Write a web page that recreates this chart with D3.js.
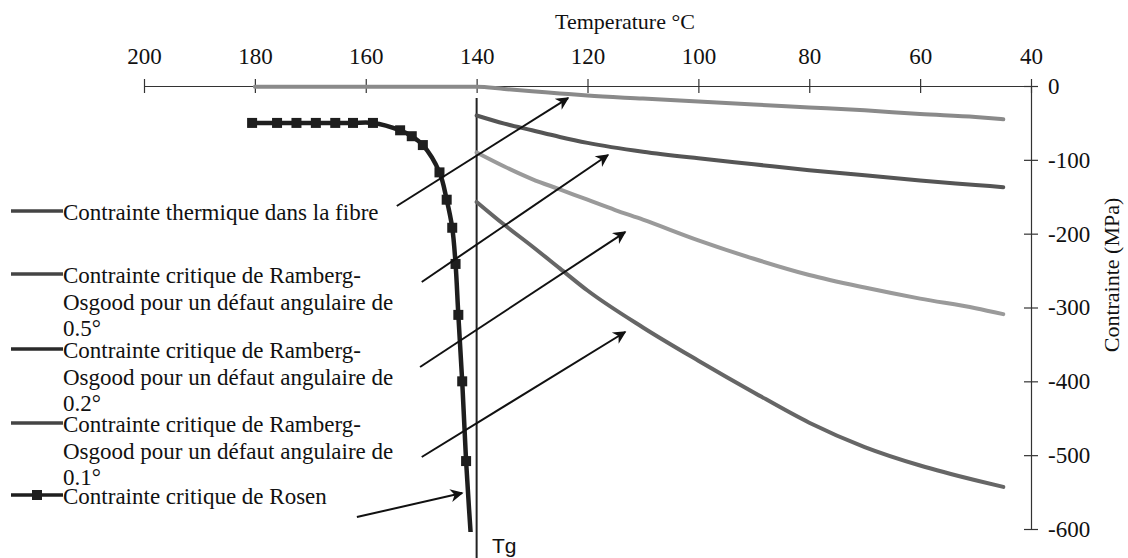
<!DOCTYPE html>
<html>
<head>
<meta charset="utf-8">
<script src="https://cdn.jsdelivr.net/npm/d3@7"></script>
<style>
  html, body { margin: 0; padding: 0; background: #fff; }
  svg { display: block; }
</style>
</head>
<body>
<svg id="chart" width="1128" height="558"></svg>
<script>
// ---------- data ----------
const xTicks = [200, 180, 160, 140, 120, 100, 80, 60, 40];
const yTicks = [0, -100, -200, -300, -400, -500, -600];

const thermT = [180, 170, 160, 150, 140, 135, 130, 125, 120, 110, 100, 90, 80, 70, 60, 50, 45];
const thermS = [-1, -1, -1, -1, -1, -4, -7, -10, -13, -17, -21, -25, -29, -33, -38, -42, -45];

const ro05T = [140, 135, 130, 125, 120, 110, 100, 90, 80, 70, 60, 50, 45];
const ro05S = [-40, -51, -60, -69, -77, -89, -98, -106, -114, -121, -128, -134, -137];

const ro02T = [140, 135, 130, 125, 120, 115, 110, 100, 90, 80, 70, 60, 50, 45];
const ro02S = [-90, -109, -126, -140, -154, -168, -181, -209, -234, -256, -273, -288, -301, -309];

const ro01T = [140, 135, 130, 125, 120, 110, 100, 90, 80, 70, 60, 50, 45];
const ro01S = [-157, -188, -217, -247, -277, -327, -372, -415, -456, -489, -514, -534, -543];

const rosenT = [180.5, 176, 172.5, 169, 165.5, 162.3, 158.7, 153.8, 151.7, 149.7, 146.7, 145.4, 144.4, 143.8, 143.3, 142.6, 141.9, 140.6];
const rosenS = [-50, -50, -50, -50, -50, -50, -50, -60, -68, -80, -117, -154, -192, -241, -310, -400, -508, -660];

const legendLabels = [
  ["Contrainte thermique dans la fibre"],
  ["Contrainte critique de Ramberg-", "Osgood pour un défaut angulaire de", "0.5°"],
  ["Contrainte critique de Ramberg-", "Osgood pour un défaut angulaire de", "0.2°"],
  ["Contrainte critique de Ramberg-", "Osgood pour un défaut angulaire de", "0.1°"],
  ["Contrainte critique de Rosen"]
];

// annotation arrows in data units
const arrowTailT = [154.4, 149.9, 150.2, 149.9, 161.6];
const arrowTailS = [-162.5, -265.5, -380.6, -502.5, -583.8];
const arrowTipT  = [123.5, 116.3, 113.2, 113.2, 142.6];
const arrowTipS  = [-16.3, -93.5, -197.8, -333.2, -551.3];

const tgValue = 140;

// ---------- styles ----------
const colThermal = "#8a8a8a", col05 = "#555555", col02 = "#9a9a9a", col01 = "#666666", colRosen = "#1e1e1e";
const serif = "'Liberation Serif', 'Times New Roman', serif";
const fs = 23;

const svg = d3.select("#chart");
const x = d3.scaleLinear().domain([200, 40]).range([144, 1031]);
const y = d3.scaleLinear().domain([0, -600]).range([86, 529]);

// ---------- axes ----------
const topAxis = svg.append("g").attr("transform", `translate(0,${y(0)})`)
  .call(d3.axisTop(x).tickValues(xTicks).tickSizeInner(7).tickSizeOuter(0).tickPadding(15).tickFormat(d3.format("d")));
topAxis.select(".domain").attr("stroke", "#333").attr("stroke-width", 1.2);
topAxis.selectAll(".tick line").attr("y2", 7).attr("y1", -7).attr("stroke", "#333").attr("stroke-width", 1.2);
topAxis.selectAll(".tick text").attr("font-family", serif).attr("font-size", fs).attr("fill", "#111").attr("dy", 0);

const rightAxis = svg.append("g").attr("transform", `translate(${x(40)},0)`)
  .call(d3.axisRight(y).tickValues(yTicks).tickSizeInner(7).tickSizeOuter(0).tickPadding(10).tickFormat(d3.format("d")));
rightAxis.select(".domain").attr("stroke", "#333").attr("stroke-width", 1.2);
rightAxis.selectAll(".tick line").attr("x1", -7).attr("x2", 7).attr("stroke", "#333").attr("stroke-width", 1.2);
rightAxis.selectAll(".tick text").attr("font-family", serif).attr("font-size", fs).attr("fill", "#111")
  .text(d => d < 0 ? "-" + Math.abs(d) : d);

svg.append("text").attr("x", 625).attr("y", 29).attr("text-anchor", "middle")
  .attr("font-family", serif).attr("font-size", 22).attr("fill", "#111").text("Temperature °C");

svg.append("text").attr("transform", `translate(1119,275) rotate(-90)`).attr("text-anchor", "middle")
  .attr("font-family", serif).attr("font-size", 22).attr("fill", "#111").text("Contrainte (MPa)");

// ---------- Tg line ----------
svg.append("line").attr("x1", x(tgValue)).attr("x2", x(tgValue)).attr("y1", 98).attr("y2", 558)
  .attr("stroke", "#222").attr("stroke-width", 2);
svg.append("text").attr("x", 492).attr("y", 553).attr("font-family", "'Liberation Sans', Arial, sans-serif")
  .attr("font-size", 21).attr("fill", "#111").text("Tg");

// ---------- series ----------
svg.append("clipPath").attr("id", "plotclip").append("rect")
  .attr("x", x(200)).attr("y", y(0) - 10).attr("width", x(40) - x(200) + 10).attr("height", y(-600) - y(0) + 13);

const plot = svg.append("g").attr("clip-path", "url(#plotclip)");
const line = d3.line().x(d => x(d[0])).y(d => y(d[1])).curve(d3.curveMonotoneX);
const zip = (a, b) => a.map((v, i) => [v, b[i]]);

const series = [
  { T: thermT, S: thermS, color: colThermal, w: 4 },
  { T: ro05T, S: ro05S, color: col05, w: 4 },
  { T: ro02T, S: ro02S, color: col02, w: 4 },
  { T: ro01T, S: ro01S, color: col01, w: 4 }
];
series.forEach(s => {
  plot.append("path").datum(zip(s.T, s.S))
    .attr("d", line).attr("fill", "none").attr("stroke", s.color).attr("stroke-width", s.w)
    .attr("stroke-linecap", "round");
});

const rosenPts = zip(rosenT, rosenS);
const rosenLine = d3.line().x(d => x(d[0])).y(d => y(d[1])).curve(d3.curveCatmullRom.alpha(0.5));
plot.append("path").datum(rosenPts).attr("d", rosenLine).attr("fill", "none")
  .attr("stroke", colRosen).attr("stroke-width", 4.5);
plot.selectAll("rect.mk").data(rosenPts).enter().append("rect").attr("class", "mk")
  .attr("x", d => x(d[0]) - 5).attr("y", d => y(d[1]) - 5).attr("width", 10).attr("height", 10)
  .attr("fill", colRosen);

// ---------- arrows ----------
svg.append("defs").append("marker").attr("id", "ah").attr("viewBox", "0 0 10 10")
  .attr("refX", 9).attr("refY", 5).attr("markerWidth", 17).attr("markerHeight", 13)
  .attr("markerUnits", "userSpaceOnUse").attr("orient", "auto")
  .append("path").attr("d", "M0,0 L10,5 L0,10 L3,5 Z").attr("fill", "#111");

svg.selectAll("line.arrow").data(arrowTailT.map((t, i) => i)).enter().append("line").attr("class", "arrow")
  .attr("x1", i => x(arrowTailT[i])).attr("y1", i => y(arrowTailS[i]))
  .attr("x2", i => x(arrowTipT[i])).attr("y2", i => y(arrowTipS[i]))
  .attr("stroke", "#111").attr("stroke-width", 2).attr("marker-end", "url(#ah)");

// ---------- legend ----------
const legendBase = [220, 283, 358, 432, 504];
const legendSample = ["#444", "#444", "#2a2a2a", "#444", colRosen];
const lg = svg.append("g");
legendLabels.forEach((lines, i) => {
  const b = legendBase[i];
  lg.append("line").attr("x1", 11).attr("x2", 63).attr("y1", b - 9).attr("y2", b - 9)
    .attr("stroke", legendSample[i]).attr("stroke-width", 3.5);
  if (i === 4) {
    lg.append("rect").attr("x", 32).attr("y", b - 14).attr("width", 10).attr("height", 10).attr("fill", colRosen);
  }
  const t = lg.append("text").attr("font-family", serif).attr("font-size", fs).attr("fill", "#111");
  lines.forEach((s, j) => {
    t.append("tspan").attr("x", 63).attr("y", b + j * 26.5).text(s);
  });
});
</script>
</body>
</html>
